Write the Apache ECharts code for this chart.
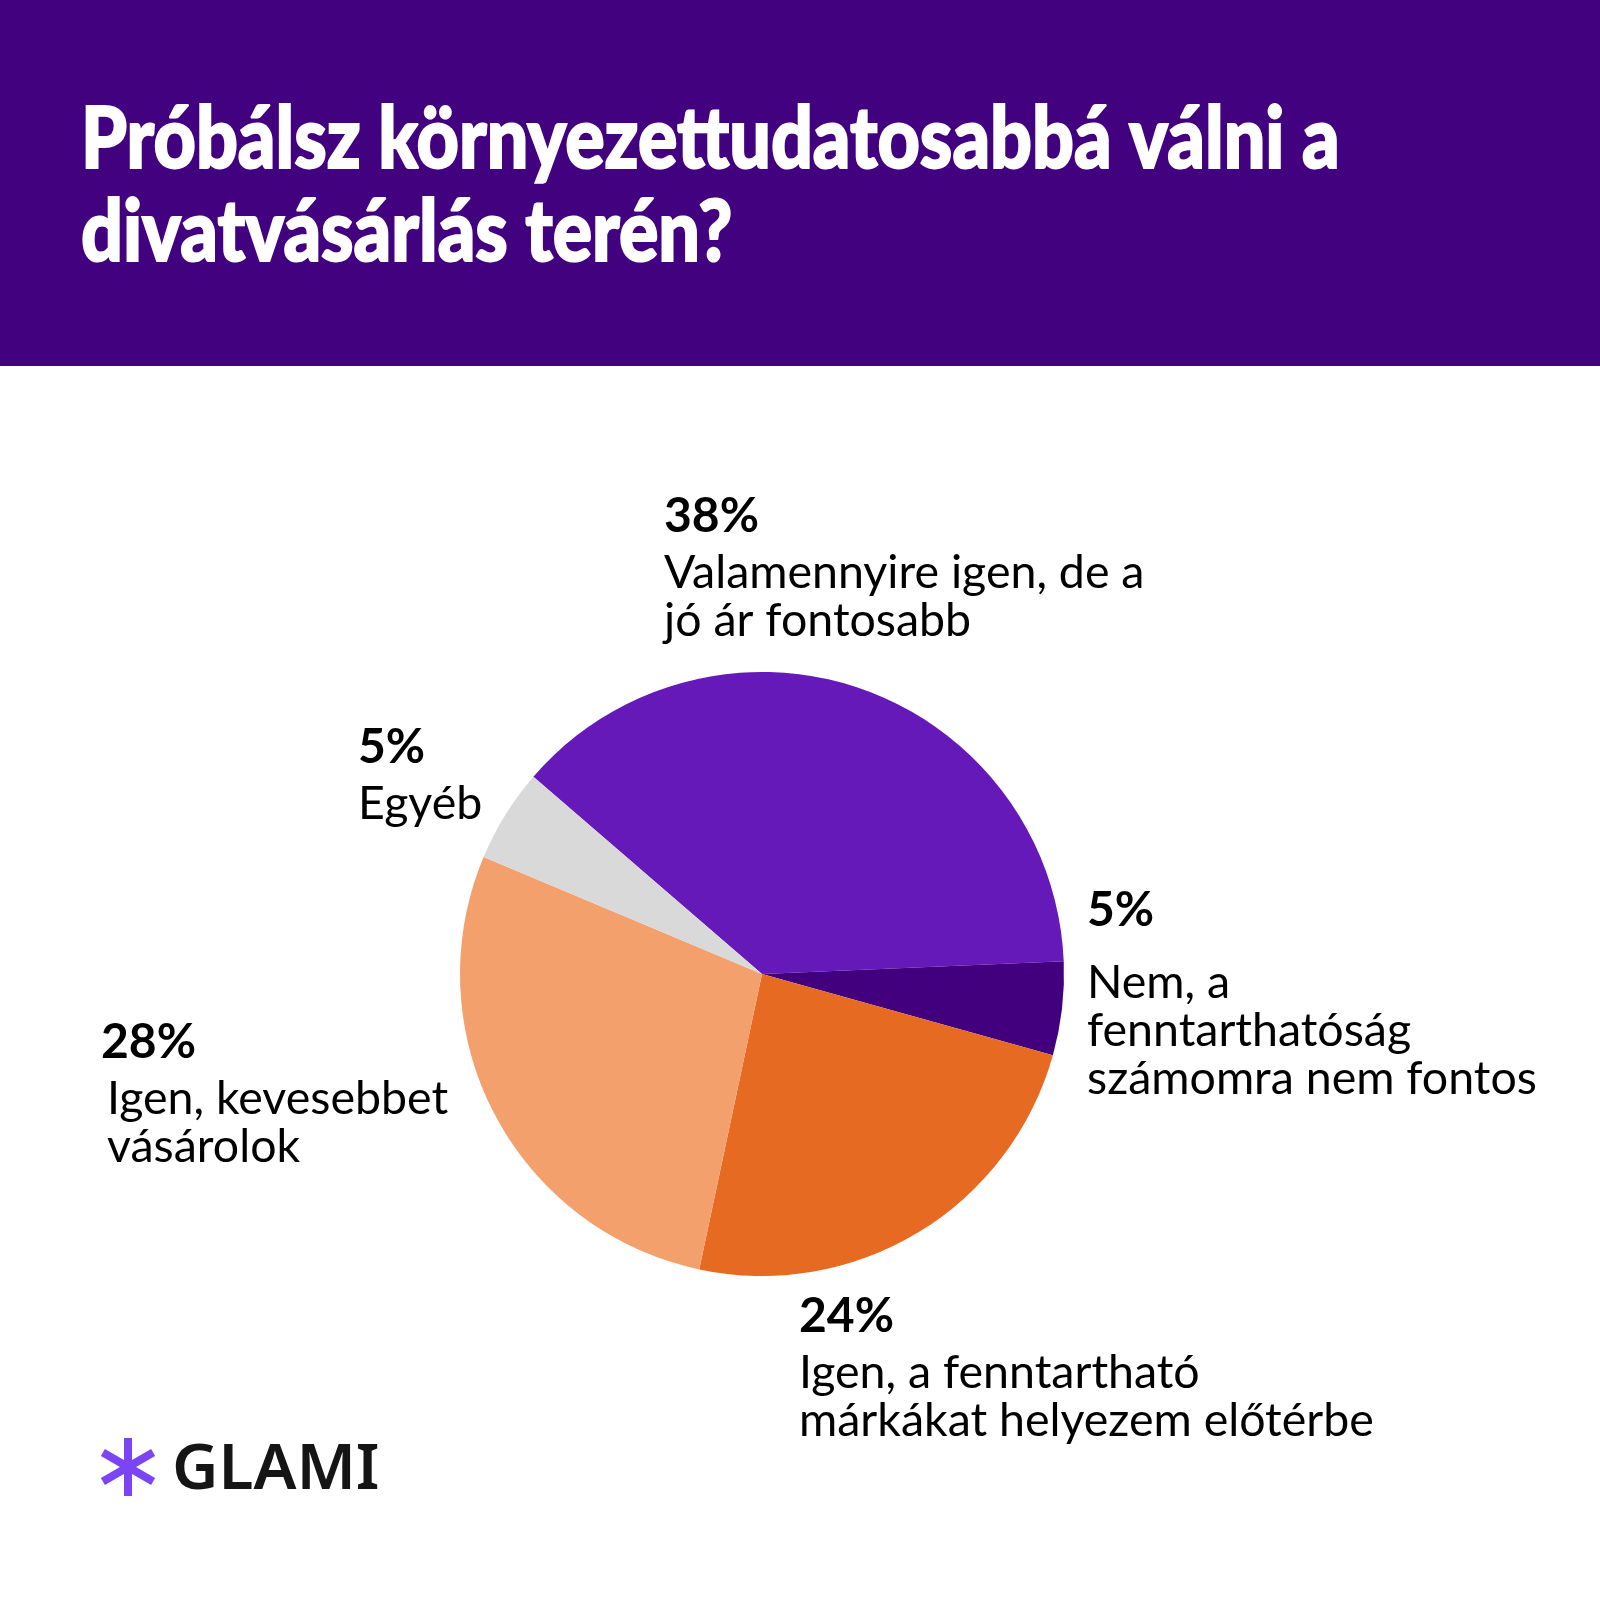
<!DOCTYPE html>
<html>
<head>
<meta charset="utf-8">
<script src="https://cdn.jsdelivr.net/npm/echarts@6/dist/echarts.min.js"></script>
<style>
html, body { margin: 0; padding: 0; background: #fff; }
#chart { width: 1600px; height: 1600px; }
</style>
</head>
<body>
<div id="chart"></div>
<script>
// adatok
var answers = [
  'Valamennyire igen, de a\njó ár fontosabb',
  'Nem, a\nfenntarthatóság\nszámomra nem fontos',
  'Igen, a fenntartható\nmárkákat helyezem előtérbe',
  'Igen, kevesebbet\nvásárolok',
  'Egyéb'
];
var shares = [38, 5, 24, 28, 5];
var sliceColors = ['#6519B8', '#42007F', '#E66A21', '#F4A06D', '#D9D9D9'];
var titleLines = ['Próbálsz környezettudatosabbá válni a', 'divatvásárlás terén?'];

// felirat helyek (bal felső sarok)
var labelPos = [[664, 485], [1087, 863], [799, 1285], [101, 1011], [358, 716]];

var myChart = echarts.init(document.getElementById('chart'));

var pieData = [];
for (var i = 0; i < shares.length; i++) {
  pieData.push({ name: answers[i], value: shares[i], itemStyle: { color: sliceColors[i] } });
}

function labelText(p) {
  var lines = answers[p.dataIndex].split('\n');
  var head = p.dataIndex == 1 ? 'pb' : 'p';
  var body = p.dataIndex == 3 ? 'ti' : 't';
  var out = '{' + head + '|' + p.value + '%}';
  for (var k = 0; k < lines.length; k++) {
    out += '\n{' + body + '|' + lines[k] + '}';
  }
  return out;
}

// csillag a logohoz
var star = [];
[90, 30, 150].forEach(function(a) {
  var r = 29, rad = a * Math.PI / 180;
  star.push({
    type: 'line',
    shape: { x1: 128 - r * Math.cos(rad), y1: 1467 + r * Math.sin(rad), x2: 128 + r * Math.cos(rad), y2: 1467 - r * Math.sin(rad) },
    style: { stroke: '#7B45F5', lineWidth: 8 }
  });
});

var titleFont = '900 85px Lato';

var option = {
  backgroundColor: '#ffffff',
  animation: false,
  graphic: [
    { type: 'rect', shape: { x: 0, y: 0, width: 1600, height: 366 }, style: { fill: '#42017F' } },
    {
      type: 'text', x: 81, y: 183, scaleX: 0.865,
      style: { text: titleLines[0], fill: '#fff', stroke: '#fff', lineWidth: 2, font: titleFont, verticalAlign: 'bottom' }
    },
    {
      type: 'text', x: 81, y: 276, scaleX: 0.865,
      style: { text: titleLines[1], fill: '#fff', stroke: '#fff', lineWidth: 2, font: titleFont, verticalAlign: 'bottom' }
    },
    { type: 'group', children: star },
    {
      type: 'text', x: 172, y: 1471,
      style: { text: 'GLAMI', fill: '#151515', font: '600 64px "Noto Sans"', verticalAlign: 'middle' }
    }
  ],
  series: [{
    type: 'pie',
    center: [762, 974],
    radius: 302,
    startAngle: 139.2,
    clockwise: true,
    silent: true,
    data: pieData,
    labelLine: { show: false },
    label: {
      show: true,
      position: 'outside',
      align: 'left',
      color: '#000',
      fontFamily: 'Lato',
      formatter: labelText,
      rich: {
        p: { fontFamily: 'Lato', fontWeight: 'bold', fontSize: 48, lineHeight: 64, color: '#000' },
        pb: { fontFamily: 'Lato', fontWeight: 'bold', fontSize: 48, lineHeight: 96, color: '#000' },
        t: { fontFamily: 'Lato', fontSize: 46.5, lineHeight: 48, color: '#000' },
        ti: { fontFamily: 'Lato', fontSize: 46.5, lineHeight: 48, color: '#000', padding: [0, 0, 0, 6] }
      }
    },
    labelLayout: function(params) {
      var pos = labelPos[params.dataIndex];
      return { x: pos[0], y: pos[1], align: 'left', verticalAlign: 'top' };
    }
  }]
};
myChart.setOption(option);
</script>
</body>
</html>
